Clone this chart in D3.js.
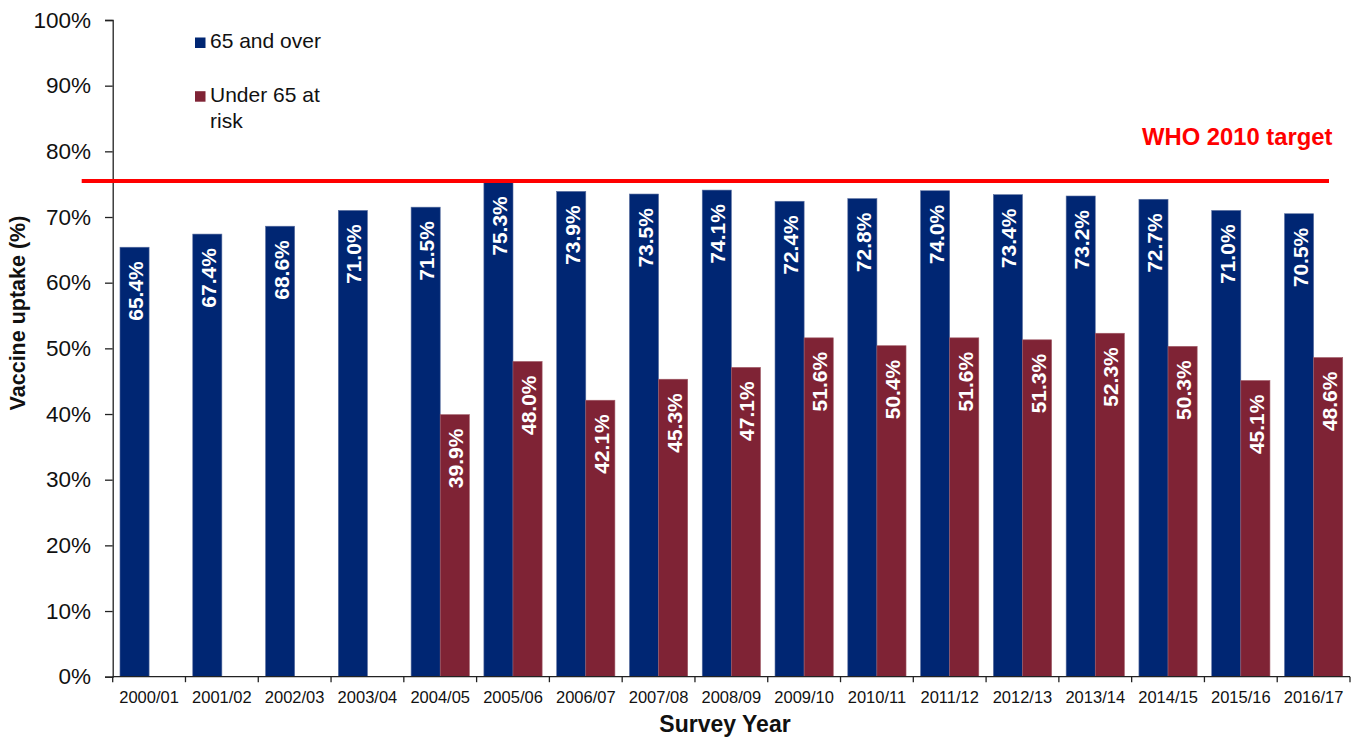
<!DOCTYPE html>
<html>
<head>
<meta charset="utf-8">
<script src="https://cdn.jsdelivr.net/npm/d3@7"></script>
<style>
  html, body { margin: 0; padding: 0; background: #ffffff; }
  svg { display: block; }
  text { font-family: "Liberation Sans", Arial, sans-serif; }
</style>
</head>
<body>
<svg id="chart" width="1357" height="738"></svg>
<script>
// ---- data ----
const categories = ["2000/01","2001/02","2002/03","2003/04","2004/05","2005/06","2006/07","2007/08","2008/09","2009/10","2010/11","2011/12","2012/13","2013/14","2014/15","2015/16","2016/17"];
const over65 = [65.4, 67.4, 68.6, 71.0, 71.5, 75.3, 73.9, 73.5, 74.1, 72.4, 72.8, 74.0, 73.4, 73.2, 72.7, 71.0, 70.5];
const under65AtRisk = [null, null, null, null, 39.9, 48.0, 42.1, 45.3, 47.1, 51.6, 50.4, 51.6, 51.3, 52.3, 50.3, 45.1, 48.6];
const seriesNames = ["65 and over", "Under 65 at risk"];
const yTicks = [0, 10, 20, 30, 40, 50, 60, 70, 80, 90, 100];
const whoTarget = 75.5; // drawn position of the WHO 2010 target line
const whoLabel = "WHO 2010 target";
const xTitle = "Survey Year";
const yTitle = "Vaccine uptake (%)";

const colors = { over: "#002673", under: "#7f2335" };

const svg = d3.select("#chart");
const plot = { left: 112.7, right: 1350, top: 20, bottom: 676.7 };

const x = d3.scaleBand().domain(categories).range([plot.left, plot.right]).paddingInner(0).paddingOuter(0);
const x1 = d3.scaleBand().domain(["over", "under"]).range([0, x.bandwidth()]).paddingInner(0).paddingOuter(0.25);
const y = d3.scaleLinear().domain([0, 100]).range([plot.bottom, plot.top]);

const rows = categories.map((c, i) => ({ cat: c, over: over65[i], under: under65AtRisk[i] }));

// bars
const groups = svg.append("g").selectAll("g").data(rows).join("g")
  .attr("transform", d => `translate(${x(d.cat)},0)`);

["over", "under"].forEach(key => {
  groups.filter(d => d[key] != null).append("rect")
    .attr("x", x1(key))
    .attr("width", x1.bandwidth())
    .attr("y", d => y(d[key]))
    .attr("height", d => y(0) - y(d[key]))
    .attr("fill", colors[key])
    .attr("stroke", key === "over" ? "#5a6fa0" : "#a05a66")
    .attr("stroke-width", 0.6);

  groups.filter(d => d[key] != null).append("text")
    .attr("transform", d => `translate(${x1(key) + x1.bandwidth() / 2 + 1},${y(d[key]) + 14}) rotate(-90)`)
    .attr("text-anchor", "end")
    .attr("dy", "0.36em")
    .attr("fill", "#ffffff")
    .attr("font-weight", "bold")
    .attr("font-size", "21px")
    .text(d => d[key].toFixed(1) + "%");
});

// y axis
const yAxis = d3.axisLeft(y).tickValues(yTicks).tickFormat(d => d + "%").tickSize(7.7).tickPadding(14);
const gy = svg.append("g").attr("transform", `translate(${plot.left},0)`).call(yAxis);
gy.select(".domain").attr("stroke", "#222").attr("stroke-width", 1.3);
gy.selectAll(".tick line").attr("stroke", "#222").attr("stroke-width", 1.3);
gy.selectAll(".tick text").attr("font-size", "22.5px").attr("fill", "#111").attr("font-family", "Liberation Sans, Arial, sans-serif");

// x axis (ticks at category boundaries)
const gx = svg.append("g").attr("transform", `translate(0,${plot.bottom})`);
gx.append("line").attr("x1", plot.left).attr("x2", plot.right).attr("y1", 0).attr("y2", 0)
  .attr("stroke", "#222").attr("stroke-width", 1.3);
const bounds = categories.map(c => x(c)).concat([plot.right]);
gx.selectAll("line.tk").data(bounds).join("line").attr("class", "tk")
  .attr("x1", d => d).attr("x2", d => d).attr("y1", 0).attr("y2", 5.5)
  .attr("stroke", "#222").attr("stroke-width", 1.3);
gx.selectAll("text").data(categories).join("text")
  .attr("x", d => x(d) + x.bandwidth() / 2)
  .attr("y", 26)
  .attr("text-anchor", "middle")
  .attr("font-size", "16.5px")
  .attr("fill", "#111")
  .text(d => d);

// axis titles
svg.append("text")
  .attr("x", 725).attr("y", 731.5)
  .attr("text-anchor", "middle")
  .attr("font-weight", "bold").attr("font-size", "23px").attr("fill", "#111")
  .text(xTitle);
svg.append("text")
  .attr("transform", `translate(25,313) rotate(-90)`)
  .attr("text-anchor", "middle")
  .attr("font-weight", "bold").attr("font-size", "21.5px").attr("fill", "#111")
  .text(yTitle);

// WHO target line
svg.append("line")
  .attr("x1", plot.left - 31).attr("x2", plot.right - 21)
  .attr("y1", y(whoTarget)).attr("y2", y(whoTarget))
  .attr("stroke", "#ff0000").attr("stroke-width", 4);
svg.append("text")
  .attr("x", 1142).attr("y", 145)
  .attr("font-weight", "bold").attr("font-size", "23.8px").attr("fill", "#ff0000")
  .text(whoLabel);

// legend
const legend = svg.append("g");
const legendRows = [
  { key: "over", lines: ["65 and over"], y: 48 },
  { key: "under", lines: ["Under 65 at", "risk"], y: 101.7 }
];
legendRows.forEach((r, i) => {
  legend.append("rect").attr("x", 195).attr("y", r.y - 10.5).attr("width", 10.5).attr("height", 10.5).attr("fill", colors[r.key]);
  const t = legend.append("text").attr("x", 210).attr("y", r.y).attr("font-size", "21px").attr("fill", "#111");
  r.lines.forEach((ln, j) => t.append("tspan").attr("x", 210).attr("dy", j === 0 ? 0 : 26.6).text(ln));
});
</script>
</body>
</html>
